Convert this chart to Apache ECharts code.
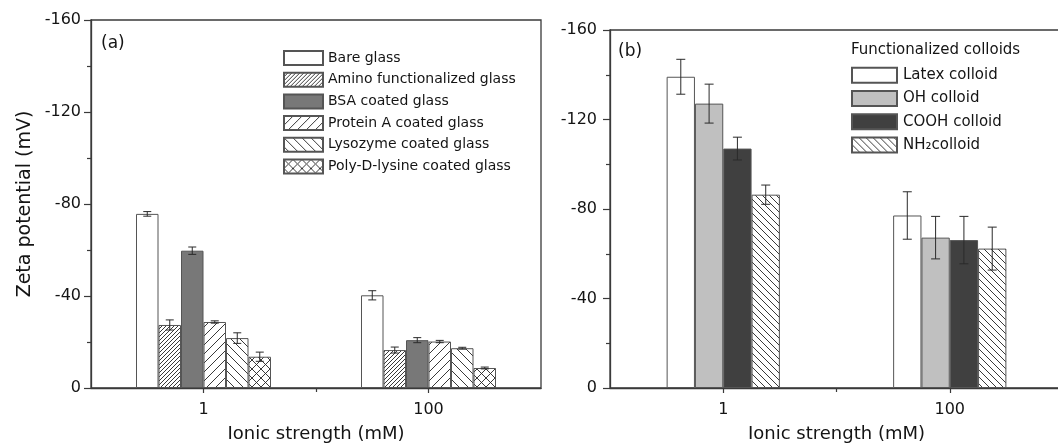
<!DOCTYPE html>
<html>
<head>
<meta charset="utf-8">
<script src="https://cdn.jsdelivr.net/npm/echarts@6/dist/echarts.min.js"></script>
<style>
  html, body { margin: 0; padding: 0; background: #fff; }
  #chart { width: 1058px; height: 446px; }
</style>
</head>
<body>
<div id="chart"></div>
<script>
// Ionic strength categories shared by both panels
const categories = ['1', '100'];
const yTicks = [-160, -120, -80, -40, 0];

// Panel (a): zeta potential of glass surfaces (mV) and error half-widths
const glassNames = [
  'Bare glass',
  'Amino functionalized glass',
  'BSA coated glass',
  'Protein A coated glass',
  'Lysozyme coated glass',
  'Poly-D-lysine coated glass'
];
const bareGlass = [-75.7, -40.3];
const bareGlassErr = [1.0, 2.0];
const aminoGlass = [-27.4, -16.5];
const aminoGlassErr = [2.2, 1.3];
const bsaGlass = [-59.7, -20.8];
const bsaGlassErr = [1.6, 1.1];
const proteinAGlass = [-28.7, -20.2];
const proteinAGlassErr = [0.5, 0.5];
const lysozymeGlass = [-21.7, -17.3];
const lysozymeGlassErr = [2.3, 0.4];
const polyLysineGlass = [-13.6, -8.7];
const polyLysineGlassErr = [2.0, 0.4];

// Panel (b): zeta potential of functionalized colloids (mV)
const colloidNames = ['Latex colloid', 'OH colloid', 'COOH colloid', 'NH\u2082colloid'];
const latexColloid = [-139.1, -77.1];
const latexColloidErr = [7.8, 10.6];
const ohColloid = [-127.1, -67.2];
const ohColloidErr = [8.7, 9.5];
const coohColloid = [-107.0, -66.1];
const coohColloidErr = [5.1, 10.6];
const nh2Colloid = [-86.4, -62.3];
const nh2ColloidErr = [4.3, 9.6];

const FONT = 'DejaVu Sans';
const INK = '#141414';
const AXIS = '#3a3a3a';
const EDGE = '#555555';

// Diagonal hatch fills drawn on small tiles
function hatch(period, dirs, lw) {
  const c = document.createElement('canvas');
  c.width = period; c.height = period;
  const g = c.getContext('2d');
  g.fillStyle = '#ffffff';
  g.fillRect(0, 0, period, period);
  g.strokeStyle = '#222222';
  g.lineWidth = lw;
  g.beginPath();
  for (let k = -1; k <= 1; k++) {
    if (dirs.indexOf('/') >= 0) {
      g.moveTo(k * period, period);
      g.lineTo(k * period + period, 0);
    }
    if (dirs.indexOf('\\') >= 0) {
      g.moveTo(k * period, 0);
      g.lineTo(k * period + period, period);
    }
  }
  g.stroke();
  return { image: c, repeat: 'repeat' };
}

const glassFills = [
  '#ffffff',
  hatch(4, '/', 0.9),
  '#787878',
  hatch(9, '/', 0.9),
  hatch(9, '\\', 0.9),
  hatch(9, '/\\', 0.9)
];
const colloidFills = ['#ffffff', '#c0c0c0', '#404040', hatch(7, '\\', 0.9)];

const glassValues = [bareGlass, aminoGlass, bsaGlass, proteinAGlass, lysozymeGlass, polyLysineGlass];
const glassErrors = [bareGlassErr, aminoGlassErr, bsaGlassErr, proteinAGlassErr, lysozymeGlassErr, polyLysineGlassErr];
const colloidValues = [latexColloid, ohColloid, coohColloid, nh2Colloid];
const colloidErrors = [latexColloidErr, ohColloidErr, coohColloidErr, nh2ColloidErr];

const GAP_A = 0.40;
const GAP_B = 0.50;

// Error bar drawn at the centre of bar i out of n in its category
function errorBar(n, i, gap, capHalf) {
  return function (params, api) {
    const c = api.value(0), v = api.value(1), e = api.value(2);
    const band = api.size([1, 0])[0];
    const bw = band * (1 - gap) / n;
    const x = api.coord([c, v])[0] + (i - (n - 1) / 2) * bw;
    const yHi = api.coord([c, v - e])[1];
    const yLo = api.coord([c, v + e])[1];
    const st = { stroke: '#2a2a2a', lineWidth: 1 };
    return {
      type: 'group',
      children: [
        { type: 'line', shape: { x1: x, y1: yHi, x2: x, y2: yLo }, style: st },
        { type: 'line', shape: { x1: x - capHalf, y1: yHi, x2: x + capHalf, y2: yHi }, style: st },
        { type: 'line', shape: { x1: x - capHalf, y1: yLo, x2: x + capHalf, y2: yLo }, style: st }
      ]
    };
  };
}

function yAxisFor(gridIndex, margin, withName) {
  const ax = {
    type: 'value', gridIndex: gridIndex,
    min: -160, max: 0, interval: 40, inverse: true,
    axisLine: { show: true, lineStyle: { color: AXIS, width: 1.3 } },
    axisTick: { show: true, length: 7, lineStyle: { color: AXIS, width: 1.2 } },
    minorTick: { show: true, splitNumber: 2, length: 4, lineStyle: { color: AXIS, width: 1.2 } },
    splitLine: { show: false },
    axisLabel: { color: INK, fontFamily: FONT, fontSize: 16, margin: margin,
      customValues: yTicks }
  };
  if (withName) {
    Object.assign(ax, {
      name: 'Zeta potential (mV)', nameLocation: 'middle', nameGap: 56, nameRotate: 90,
      nameTextStyle: { color: INK, fontFamily: FONT, fontSize: 19 }
    });
  }
  return ax;
}

function xAxisFor(gridIndex) {
  return {
    type: 'category', gridIndex: gridIndex, data: categories,
    axisLine: { show: true, onZero: false, lineStyle: { color: AXIS, width: 1.3 } },
    axisTick: { show: true, alignWithLabel: true, length: 5, lineStyle: { color: AXIS, width: 1.2 } },
    axisLabel: { color: INK, fontFamily: FONT, fontSize: 16, margin: 14 },
    name: 'Ionic strength (mM)', nameLocation: 'middle', nameGap: 37,
    nameTextStyle: { color: INK, fontFamily: FONT, fontSize: 18 }
  };
}

// Tick between the two categories
function midTickAxis(gridIndex) {
  return {
    type: 'value', gridIndex: gridIndex, min: 0, max: 2, position: 'bottom',
    axisLine: { show: false },
    axisTick: { show: true, length: 4, customValues: [1], lineStyle: { color: AXIS, width: 1.2 } },
    axisLabel: { show: false },
    splitLine: { show: false }
  };
}

const series = [];
glassNames.forEach(function (name, i) {
  series.push({
    type: 'bar', name: name, xAxisIndex: 0, yAxisIndex: 0,
    data: glassValues[i], barGap: '0%', barCategoryGap: (GAP_A * 100) + '%',
    itemStyle: { color: glassFills[i], borderColor: EDGE, borderWidth: 1 },
    emphasis: { disabled: true }, animation: false
  });
});
glassNames.forEach(function (name, i) {
  series.push({
    type: 'custom', xAxisIndex: 0, yAxisIndex: 0, z: 5,
    renderItem: errorBar(6, i, GAP_A, 4),
    encode: { x: 0, y: 1 },
    data: categories.map(function (c, k) { return [k, glassValues[i][k], glassErrors[i][k]]; }),
    animation: false, silent: true
  });
});
colloidNames.forEach(function (name, i) {
  series.push({
    type: 'bar', name: name, xAxisIndex: 2, yAxisIndex: 1,
    data: colloidValues[i], barGap: '0%', barCategoryGap: (GAP_B * 100) + '%',
    itemStyle: { color: colloidFills[i], borderColor: EDGE, borderWidth: 1 },
    emphasis: { disabled: true }, animation: false
  });
});
colloidNames.forEach(function (name, i) {
  series.push({
    type: 'custom', xAxisIndex: 2, yAxisIndex: 1, z: 5,
    renderItem: errorBar(4, i, GAP_B, 4.5),
    encode: { x: 0, y: 1 },
    data: categories.map(function (c, k) { return [k, colloidValues[i][k], colloidErrors[i][k]]; }),
    animation: false, silent: true
  });
});

const chart = echarts.init(document.getElementById('chart'), null, { renderer: 'canvas' });
chart.setOption({
  backgroundColor: '#ffffff',
  animation: false,
  textStyle: { fontFamily: FONT },
  grid: [
    { left: 91, top: 20, width: 450, height: 368, outerBoundsMode: 'none', containLabel: false,
      show: true, borderColor: AXIS, borderWidth: 1.3, backgroundColor: 'transparent' },
    { left: 610, top: 30, width: 453, height: 358, outerBoundsMode: 'none', containLabel: false,
      show: true, borderColor: AXIS, borderWidth: 1.3, backgroundColor: 'transparent' }
  ],
  xAxis: [xAxisFor(0), midTickAxis(0), xAxisFor(1), midTickAxis(1)],
  yAxis: [yAxisFor(0, 10, true), yAxisFor(1, 13, false)],
  legend: [
    {
      data: glassNames, left: 283, top: 50, orient: 'vertical', padding: 0,
      itemWidth: 39, itemHeight: 14, itemGap: 5.7,
      icon: 'rect', selectedMode: false,
      textStyle: { color: INK, fontFamily: FONT, fontSize: 14, lineHeight: 14, padding: [0, 0, 0, 0] }
    },
    {
      data: colloidNames, left: 851, top: 66.7, orient: 'vertical', padding: 0,
      itemWidth: 45, itemHeight: 15, itemGap: 6.3,
      icon: 'rect', selectedMode: false,
      textStyle: { color: INK, fontFamily: FONT, fontSize: 15, lineHeight: 15, padding: [0, 0, 0, 1] }
    }
  ],
  graphic: [
    { type: 'text', left: 101, top: 35, style: { text: '(a)', fill: INK, font: '17px "DejaVu Sans"' } },
    { type: 'text', left: 618, top: 43, style: { text: '(b)', fill: INK, font: '17px "DejaVu Sans"' } },
    { type: 'text', left: 851, top: 43, style: { text: 'Functionalized colloids', fill: INK, font: '15px "DejaVu Sans"' } }
  ],
  series: series
});
</script>
</body>
</html>
